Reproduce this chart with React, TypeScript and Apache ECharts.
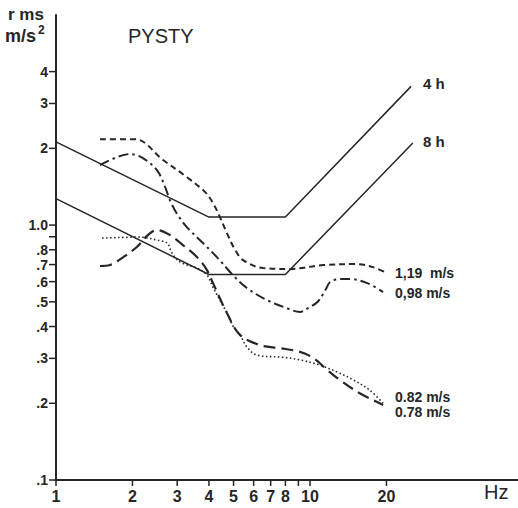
import React, { useEffect, useRef } from "react";
import * as echarts from "echarts";

const xTickValues = [1, 2, 3, 4, 5, 6, 7, 8, 9, 10, 20];
const xTickLabels = ["1", "2", "3", "4", "5", "6", "7", "8", "", "10", "20"];
const yTickValues = [0.1, 0.2, 0.3, 0.4, 0.5, 0.6, 0.7, 0.8, 0.9, 1, 2, 3, 4];
const yTickLabels = [".1", ".2", ".3", ".4", ".5", ".6", ".7", ".8", "", "1.0", "2", "3", "4"];

const limit4hFreq = [1, 4, 8, 25];
const limit4hAcc = [2.12, 1.075, 1.075, 3.5];
const limit8hFreq = [1, 4, 8, 25.4];
const limit8hAcc = [1.27, 0.64, 0.64, 2.1];

const v119Freq = [1.49, 2.05, 2.64, 3.28, 3.86, 4.15, 4.42, 4.71, 5.07, 5.45, 6.53, 8.34, 11.25, 15.3, 17.7, 20.1];
const v119Acc = [2.17, 2.17, 1.8, 1.54, 1.35, 1.22, 1.075, 0.93, 0.8, 0.729, 0.678, 0.673, 0.697, 0.703, 0.684, 0.648];

const v098Freq = [1.49, 1.96, 2.2, 2.5, 2.69, 2.81, 2.99, 3.28, 3.79, 4.3, 4.97, 5.65, 6.77, 8.12, 9.14, 9.73, 10.7, 11.5, 12.0, 13.1, 14.4, 16.8, 19.4];
const v098Acc = [1.72, 1.9, 1.83, 1.64, 1.41, 1.25, 1.11, 0.98, 0.85, 0.749, 0.637, 0.566, 0.508, 0.472, 0.456, 0.47, 0.499, 0.556, 0.598, 0.614, 0.614, 0.592, 0.546];

const v082Freq = [1.52, 2.14, 2.5, 2.74, 2.86, 3.08, 3.59, 3.93, 4.15, 4.42, 4.71, 5.0, 5.3, 5.65, 6.19, 7.83, 9.14, 10.95, 12.8, 14.8, 17.2, 19.4];
const v082Acc = [0.889, 0.897, 0.873, 0.85, 0.777, 0.716, 0.678, 0.637, 0.571, 0.508, 0.452, 0.398, 0.371, 0.332, 0.309, 0.303, 0.296, 0.282, 0.265, 0.247, 0.225, 0.2];

const v078Freq = [1.49, 1.63, 1.84, 2.08, 2.3, 2.5, 2.81, 3.16, 3.59, 3.93, 4.15, 4.71, 5.3, 6.36, 7.62, 9.14, 10.3, 11.7, 13.1, 15.7, 19.4];
const v078Acc = [0.691, 0.697, 0.749, 0.82, 0.914, 0.956, 0.914, 0.835, 0.749, 0.666, 0.592, 0.452, 0.371, 0.338, 0.329, 0.318, 0.301, 0.27, 0.247, 0.219, 0.197];

const X_MIN = 1;
const X_MAX = 65.9;
const Y_MIN = 0.1;
const Y_MAX = 6.67;
const INK = "#262626";
const FONT = "'Liberation Sans', Arial, sans-serif";

const zip = (xs: number[], ys: number[]) => xs.map((x, i) => [x, ys[i]]);

export default function App() {
  const ref = useRef<HTMLDivElement>(null);
  useEffect(() => {
    if (!ref.current) return;
    const chart = echarts.init(ref.current, null, { renderer: "svg" });
    const curve = (name: string, xs: number[], ys: number[], type: any, width: number) => ({
      name,
      type: "line",
      data: zip(xs, ys),
      smooth: 0.35,
      showSymbol: false,
      symbol: "none",
      lineStyle: { color: INK, width, type, cap: "butt" },
      z: 3,
    });
    const option: any = {
      animation: false,
      backgroundColor: "#ffffff",
      grid: { left: 56, right: 0, top: 15, bottom: 28, containLabel: false },
      xAxis: {
        type: "log",
        logBase: 10,
        min: X_MIN,
        max: X_MAX,
        axisLine: { show: true, lineStyle: { color: INK, width: 2 } },
        axisTick: { show: false },
        axisLabel: { show: false },
        splitLine: { show: false },
      },
      yAxis: {
        type: "log",
        logBase: 10,
        min: Y_MIN,
        max: Y_MAX,
        axisLine: { show: true, lineStyle: { color: INK, width: 2 } },
        axisTick: { show: false },
        axisLabel: { show: false },
        splitLine: { show: false },
      },
      series: [
        {
          name: "4h",
          type: "line",
          data: zip(limit4hFreq, limit4hAcc),
          showSymbol: false,
          symbol: "none",
          lineStyle: { color: INK, width: 1.5 },
          z: 2,
        },
        {
          name: "8h",
          type: "line",
          data: zip(limit8hFreq, limit8hAcc),
          showSymbol: false,
          symbol: "none",
          lineStyle: { color: INK, width: 1.5 },
          z: 2,
        },
        curve("1,19 m/s", v119Freq, v119Acc, [6, 4], 2),
        curve("0,98 m/s", v098Freq, v098Acc, [10, 4, 2.5, 4], 2),
        curve("0.82 m/s", v082Freq, v082Acc, [1.5, 2.5], 1.6),
        curve("0.78 m/s", v078Freq, v078Acc, [12, 6], 2.2),
        {
          name: "xticks",
          type: "custom",
          clip: false,
          silent: true,
          data: xTickValues.map((v) => [v, Y_MIN]),
          renderItem: (params: any, api: any) => {
            const p = api.coord([api.value(0), Y_MIN]);
            const label = xTickLabels[params.dataIndex];
            return {
              type: "group",
              children: [
                { type: "line", shape: { x1: p[0], y1: p[1], x2: p[0], y2: p[1] + 6 }, style: { stroke: INK, lineWidth: 1.5 } },
                {
                  type: "text",
                  x: p[0],
                  y: p[1] + 16,
                  style: { text: label, fill: INK, font: `bold 16px ${FONT}`, align: "center", verticalAlign: "middle" },
                },
              ],
            };
          },
        },
        {
          name: "yticks",
          type: "custom",
          clip: false,
          silent: true,
          data: yTickValues.map((v) => [X_MIN, v]),
          renderItem: (params: any, api: any) => {
            const p = api.coord([X_MIN, api.value(1)]);
            const label = yTickLabels[params.dataIndex];
            return {
              type: "group",
              children: [
                { type: "line", shape: { x1: p[0] - 7, y1: p[1], x2: p[0], y2: p[1] }, style: { stroke: INK, lineWidth: 1.5 } },
                {
                  type: "text",
                  x: p[0] - 8,
                  y: p[1],
                  style: { text: label, fill: INK, font: `bold 14px ${FONT}`, align: "right", verticalAlign: "middle" },
                },
              ],
            };
          },
        },
      ],
      graphic: [
        { type: "text", left: 8, top: 6, style: { text: "r ms", fill: INK, font: `bold 17px ${FONT}` } },
        { type: "text", left: 5, top: 27, style: { text: "m/s", fill: INK, font: `bold 18px ${FONT}` } },
        { type: "text", left: 38, top: 24, style: { text: "2", fill: INK, font: `bold 12px ${FONT}` } },
        { type: "text", left: 128, top: 26, style: { text: "PYSTY", fill: INK, font: `20px ${FONT}` } },
        { type: "text", left: 423, top: 76, style: { text: "4 h", fill: INK, font: `bold 15px ${FONT}` } },
        { type: "text", left: 423, top: 134, style: { text: "8 h", fill: INK, font: `bold 15px ${FONT}` } },
        { type: "text", left: 395, top: 266, style: { text: "1,19  m/s", fill: INK, font: `bold 14px ${FONT}` } },
        { type: "text", left: 395, top: 286, style: { text: "0,98 m/s", fill: INK, font: `bold 14px ${FONT}` } },
        { type: "text", left: 395, top: 390, style: { text: "0.82 m/s", fill: INK, font: `bold 14px ${FONT}` } },
        { type: "text", left: 395, top: 405, style: { text: "0.78 m/s", fill: INK, font: `bold 14px ${FONT}` } },
        { type: "text", left: 484, top: 482, style: { text: "Hz", fill: INK, font: `20px ${FONT}` } },
      ],
    };
    chart.setOption(option);
    return () => chart.dispose();
  }, []);
  return (
    <div
      ref={ref}
      style={{ position: "absolute", left: 0, top: 0, width: 518, height: 508, background: "#fff" }}
    />
  );
}
